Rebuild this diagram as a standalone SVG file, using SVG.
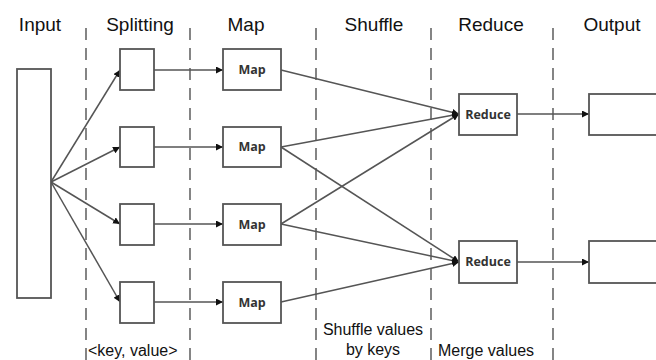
<svg xmlns="http://www.w3.org/2000/svg" width="656" height="360" viewBox="0 0 656 360">
<defs>
<style>
.t{font-family:"Liberation Sans",Arial,sans-serif;font-size:19px;fill:#111;text-anchor:middle}
.s{font-family:"Liberation Sans",Arial,sans-serif;font-size:16px;fill:#111}
.b{font-family:"Open Sans","Liberation Sans",sans-serif;font-size:12.5px;font-weight:bold;fill:#333;text-anchor:middle}
.box{fill:#fff;stroke:#555;stroke-width:1.8}
.dash{stroke:#444;stroke-width:1.3;stroke-dasharray:12 8;fill:none}
.c{stroke:#555;stroke-width:1.5;fill:none;marker-end:url(#ah)}
</style>
<marker id="ah" viewBox="0 0 10 10" refX="10" refY="5" markerWidth="7" markerHeight="7" markerUnits="userSpaceOnUse" orient="auto">
<path d="M0,0 L10,5 L0,10 z" fill="#111"/>
</marker>
</defs>
<rect width="656" height="360" fill="#fff"/>
<g id="titles">
<text class="t" x="40" y="31">Input</text>
<text class="t" x="140" y="31">Splitting</text>
<text class="t" x="246" y="31">Map</text>
<text class="t" x="374" y="31">Shuffle</text>
<text class="t" x="491" y="31">Reduce</text>
<text class="t" x="612" y="31">Output</text>
</g>
<g id="separators">
<line class="dash" x1="86" y1="28" x2="86" y2="360"/>
<line class="dash" x1="190" y1="28" x2="190" y2="360"/>
<line class="dash" x1="316" y1="28" x2="316" y2="360"/>
<line class="dash" x1="431" y1="28" x2="431" y2="360"/>
<line class="dash" x1="553" y1="28" x2="553" y2="360"/>
</g>
<g id="connectors">
<line class="c" x1="51" y1="182" x2="120" y2="70"/>
<line class="c" x1="51" y1="182" x2="120" y2="147"/>
<line class="c" x1="51" y1="182" x2="120" y2="224"/>
<line class="c" x1="51" y1="182" x2="120" y2="302"/>
<line class="c" x1="154" y1="70" x2="223" y2="70"/>
<line class="c" x1="154" y1="147" x2="223" y2="147"/>
<line class="c" x1="154" y1="224" x2="223" y2="224"/>
<line class="c" x1="154" y1="302" x2="223" y2="302"/>
<line class="c" x1="281" y1="70" x2="459" y2="114"/>
<line class="c" x1="281" y1="147" x2="459" y2="114"/>
<line class="c" x1="281" y1="224" x2="459" y2="114"/>
<line class="c" x1="281" y1="147" x2="459" y2="262"/>
<line class="c" x1="281" y1="224" x2="459" y2="262"/>
<line class="c" x1="281" y1="302" x2="459" y2="262"/>
<line class="c" x1="517" y1="114" x2="589" y2="114"/>
<line class="c" x1="517" y1="262" x2="589" y2="262"/>
</g>
<g id="input"><rect class="box" x="17" y="69" width="34" height="229"/></g>
<g id="split1"><rect class="box" x="120" y="49" width="34" height="41"/></g>
<g id="split2"><rect class="box" x="120" y="127" width="34" height="40"/></g>
<g id="split3"><rect class="box" x="120" y="204" width="34" height="41"/></g>
<g id="split4"><rect class="box" x="120" y="282" width="34" height="41"/></g>
<g id="map1"><rect class="box" x="223" y="49" width="58" height="41"/><text class="b" x="252" y="74">Map</text></g>
<g id="map2"><rect class="box" x="223" y="127" width="58" height="40"/><text class="b" x="252" y="151">Map</text></g>
<g id="map3"><rect class="box" x="223" y="204" width="58" height="41"/><text class="b" x="252" y="229">Map</text></g>
<g id="map4"><rect class="box" x="223" y="282" width="58" height="41"/><text class="b" x="252" y="307">Map</text></g>
<g id="reduce1"><rect class="box" x="459" y="94" width="58" height="41"/><text class="b" x="488" y="119">Reduce</text></g>
<g id="reduce2"><rect class="box" x="459" y="241" width="58" height="42"/><text class="b" x="488" y="266">Reduce</text></g>
<g id="output1"><rect class="box" x="589" y="94" width="80" height="41"/></g>
<g id="output2"><rect class="box" x="589" y="241" width="80" height="42"/></g>
<g id="notes">
<text class="s" x="88" y="356">&lt;key, value&gt;</text>
<text class="s" x="373" y="335" text-anchor="middle">Shuffle values</text>
<text class="s" x="373" y="355" text-anchor="middle">by keys</text>
<text class="s" x="438" y="356">Merge values</text>
</g>
</svg>
